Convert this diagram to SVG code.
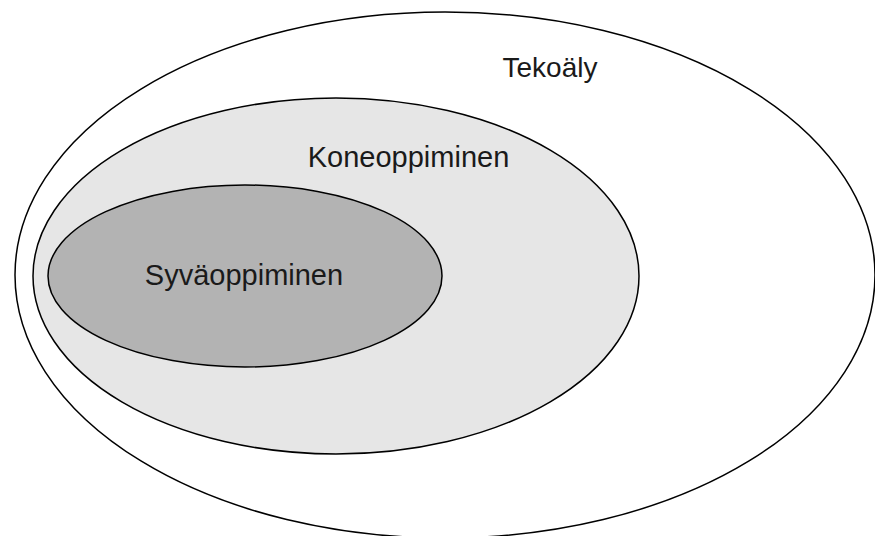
<svg xmlns="http://www.w3.org/2000/svg" width="875" height="536" viewBox="0 0 875 536">
  <style>
    .set { stroke: #000; stroke-width: 1.5; }
    .label { font-family: "Liberation Sans", Arial, sans-serif; font-size: 29px; fill: #1a1a1a; text-anchor: middle; }
  </style>
  <rect width="875" height="536" fill="#fff"/>
  <g id="tekoaly">
    <ellipse class="set" cx="445" cy="275" rx="430" ry="263" fill="#fff"/>
    <text class="label" x="550" y="77" style="font-size:28px">Tekoäly</text>
  </g>
  <g id="koneoppiminen">
    <ellipse class="set" cx="336" cy="276" rx="303" ry="178" fill="#e6e6e6"/>
    <text class="label" x="408.5" y="167">Koneoppiminen</text>
  </g>
  <g id="syvaoppiminen">
    <ellipse class="set" cx="245" cy="276" rx="197" ry="91" fill="#b3b3b3"/>
    <text class="label" x="244" y="285">Syväoppiminen</text>
  </g>
  <g id="connectors"/>
</svg>
